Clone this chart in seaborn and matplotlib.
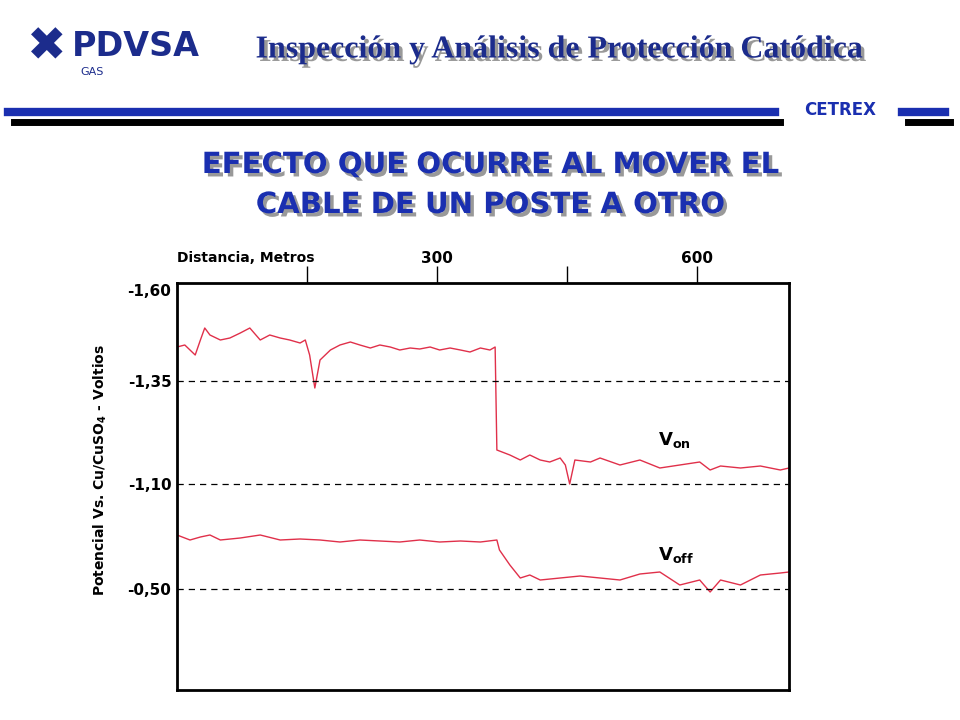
import matplotlib
matplotlib.use("Agg")
import matplotlib.pyplot as plt
import matplotlib.patheffects as pe
import seaborn as sns
import pandas as pd

# distance (m) and potential position (axis units)
von_x = [0,9,21,27,32,38,50,61,73,84,96,107,119,130,142,148,153,159,165,177,188,200,211,223,234,246,257,269,280,292,
         303,315,327,338,350,361,367,369,384,396,407,419,430,442,448,453,459,477,488,511,534,557,580,603,615,627,650,673,696,706]
von_y = [3.43,3.45,3.35,3.50,3.62,3.55,3.50,3.52,3.57,3.62,3.50,3.55,3.52,3.50,3.47,3.50,3.35,3.02,3.30,3.40,
         3.45,3.48,3.45,3.42,3.45,3.43,3.40,3.42,3.41,3.43,3.40,3.42,3.40,3.38,3.42,3.40,3.43,2.40,2.35,2.30,
         2.35,2.30,2.28,2.32,2.25,2.06,2.30,2.28,2.32,2.25,2.30,2.22,2.25,2.28,2.20,2.24,2.22,2.24,2.20,2.22]
voff_x = [0,15,27,38,50,73,96,119,142,165,188,211,234,257,280,303,327,350,369,372,384,396,407,419,442,465,488,511,534,557,
          580,603,615,627,650,673,696,706]
voff_y = [1.55,1.50,1.53,1.55,1.50,1.52,1.55,1.50,1.51,1.50,1.48,1.50,1.49,1.48,1.50,1.48,1.49,1.48,1.50,1.40,
          1.25,1.12,1.15,1.10,1.12,1.14,1.12,1.10,1.16,1.18,1.05,1.10,0.98,1.10,1.05,1.15,1.17,1.18]
ytick_pos = [4.00, 3.09, 2.06, 1.01]
ytick_labels = ["-1,60", "-1,35", "-1,10", "-0,50"]
xtick_pos = [150, 300, 450, 600]
xtick_labels = ["", "300", "", "600"]

df = pd.concat([pd.DataFrame({"d": von_x, "v": von_y, "s": "on"}),
                pd.DataFrame({"d": voff_x, "v": voff_y, "s": "off"})])

fig = plt.figure(figsize=(9.6, 7.2), dpi=100)
ax = fig.add_axes([177/960, 1-690/720, 612/960, 407/720])
sns.lineplot(data=df, x="d", y="v", units="s", estimator=None, color="#e0304a", lw=1, ax=ax, legend=False)
ax.set_xlim(0, 706)
ax.set_ylim(0, 4.07)
for p in ytick_pos[1:]:
    ax.axhline(p, color="black", ls=(0, (5, 4)), lw=0.9)
ax.set_yticks(ytick_pos)
ax.set_yticklabels(ytick_labels, fontsize=11, fontweight="bold")
ax.tick_params(axis="y", length=0, pad=4)
ax.xaxis.tick_top()
ax.set_xticks(xtick_pos)
ax.set_xticklabels(xtick_labels, fontsize=11, fontweight="bold")
ax.tick_params(axis="x", direction="out", length=12, width=1, pad=0)
ax.set_xlabel(""); ax.set_ylabel("")
for s in ax.spines.values():
    s.set_linewidth(2)
ax.text(0, 1.045, "Distancia, Metros", transform=ax.transAxes, fontsize=10, fontweight="bold", va="bottom")
ax.text(555, 2.45, r"V$_{\mathbf{on}}$", fontsize=13, fontweight="bold")
ax.text(555, 1.30, r"V$_{\mathbf{off}}$", fontsize=13, fontweight="bold")
fig.text(100/960, 1-470/720, r"Potencial Vs. Cu/CuSO$_{\mathbf{4}}$ - Voltios", rotation=90,
         fontsize=10, fontweight="bold", ha="center", va="center")

navy = "#1c2c8c"
shadow = [pe.withSimplePatchShadow(offset=(2.5, -2.5), shadow_rgbFace="#999999", alpha=1)]
# header
fig.text(72/960, 1-47/720, "PDVSA", fontsize=24, fontweight="bold", color=navy, va="center")
fig.text(80/960, 1-72/720, "GAS", fontsize=8, color=navy, va="center")
fig.text(47/960, 1-48/720, "✖", fontsize=34, color=navy, ha="center", va="center", family="DejaVu Sans")
fig.text(560/960, 1-50/720, "Inspección y Análisis de Protección Catódica", fontsize=23,
         fontweight="bold", family="Liberation Serif", color=navy, ha="center", va="center", path_effects=shadow)
fig.add_artist(plt.Line2D([8/960, 775/960], [1-112/720]*2, color="#1a2fb0", lw=6))
fig.add_artist(plt.Line2D([14/960, 780/960], [1-122/720]*2, color="black", lw=5))
fig.add_artist(plt.Line2D([902/960, 945/960], [1-112/720]*2, color="#1a2fb0", lw=6))
fig.add_artist(plt.Line2D([908/960, 950/960], [1-122/720]*2, color="black", lw=5))
fig.text(840/960, 1-110/720, "CETREX", fontsize=12, fontweight="bold", color="#1a2fb0", ha="center", va="center")
for line, y in [("EFECTO QUE OCURRE AL MOVER EL", 165), ("CABLE DE UN POSTE A OTRO", 205)]:
    fig.text(490/960, 1-y/720, line, fontsize=21, fontweight="bold", color="#1a2fb0",
             ha="center", va="center", path_effects=shadow)
fig.savefig("out.png", dpi=100)
